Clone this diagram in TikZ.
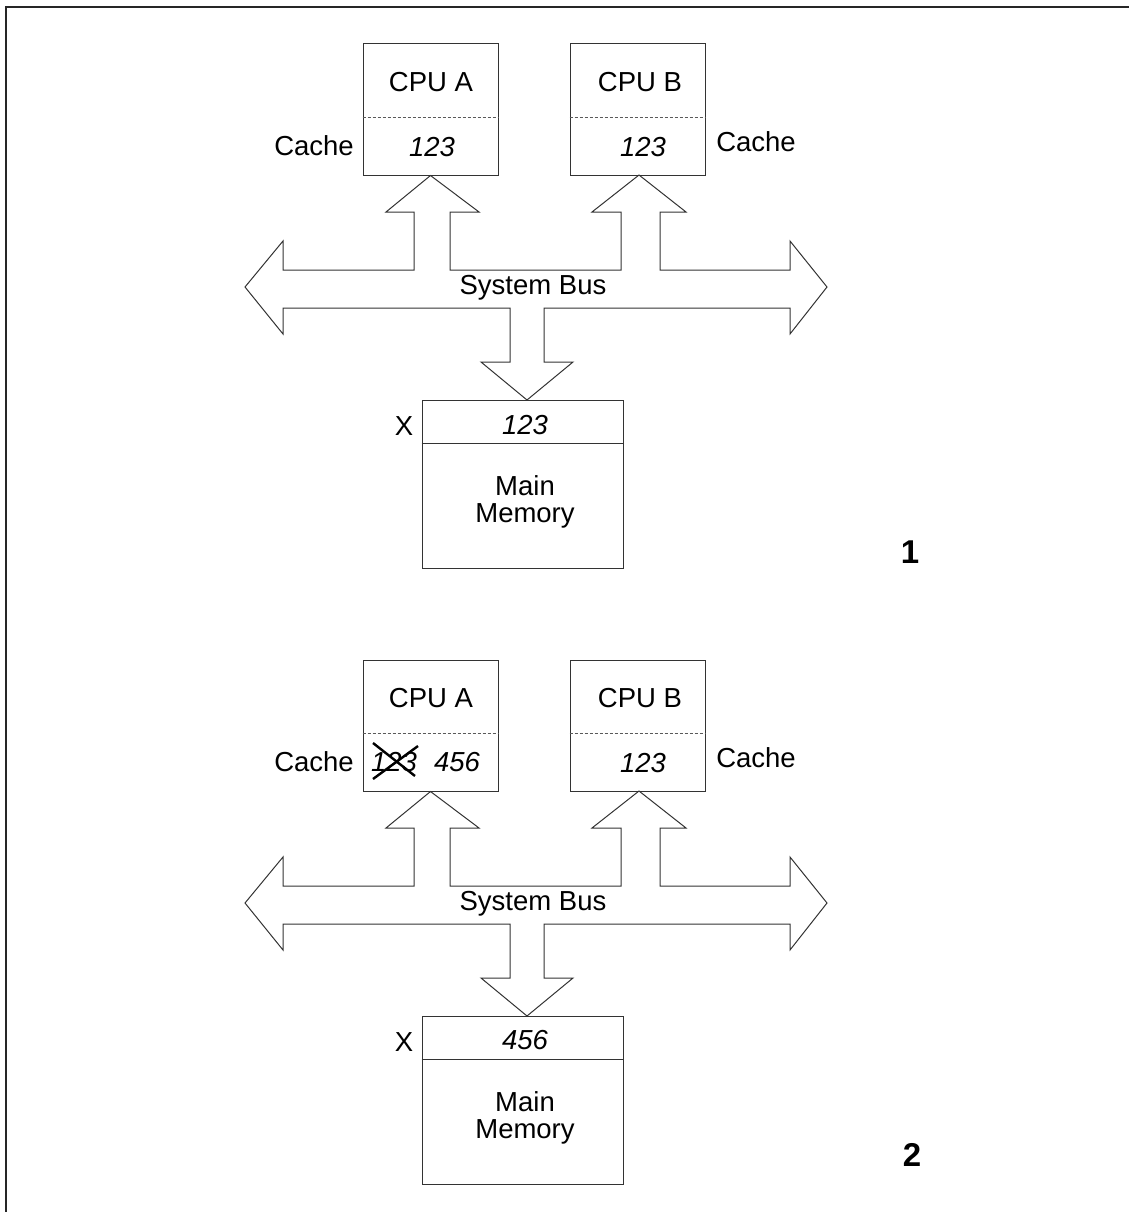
\documentclass[tikz,border=0pt]{standalone}
\usepackage{fontspec}
\setmainfont{Liberation Sans}
\begin{document}
\begin{tikzpicture}[x=1pt,y=-1pt,
  frame/.style={draw=black!85, line width=2pt},
  cpubox/.style={draw=black!80, line width=1pt, minimum width=135pt, minimum height=131pt, inner sep=0pt},
  membox/.style={draw=black!80, line width=1pt, minimum width=201pt, minimum height=168pt, inner sep=0pt},
  divider/.style={draw=black!65, line width=0.9pt, dash pattern=on 3pt off 2pt},
  memdiv/.style={draw=black!80, line width=1pt},
  bus/.style={draw=black!80, line width=1pt},
  lbl/.style={inner sep=0pt, font=\fontsize{27.5}{30}\selectfont},
  ilbl/.style={lbl, font=\fontsize{27.5}{30}\selectfont\itshape},
  num/.style={inner sep=0pt, font=\fontsize{33}{36}\selectfont\bfseries},
  cross/.style={draw=black, line width=2.4pt}]
\useasboundingbox (0,0) rectangle (1128,1212);
\draw[frame] (6,1213) -- (6,7) -- (1129,7);

% ---------------- Panel 1 ----------------
\node[cpubox] (a1) at (430.5,109.5) {};
\node[cpubox] (b1) at (637.5,109.5) {};
\draw[divider] ([yshift=-74pt]a1.north west) -- ([yshift=-74pt]a1.north east);
\draw[divider] ([yshift=-74pt]b1.north west) -- ([yshift=-74pt]b1.north east);
\node[lbl] (a1t) at (431,82) {CPU A};
\node[lbl] (b1t) at (640,82) {CPU B};
\node[ilbl] (a1c) at (432,147) {123};
\node[ilbl] (b1c) at (643,147) {123};
\node[lbl] (ca1) at (314,146) {Cache};
\node[lbl] (cb1) at (756,142) {Cache};
\node[membox] (m1) at (522.5,484) {};
\draw[memdiv] ([yshift=-44pt]m1.north west) -- ([yshift=-44pt]m1.north east);
\node[lbl] (x1) at (404,426) {X};
\node[ilbl] (m1v) at (525,425) {123};
\node[lbl, align=center, font=\fontsize{27.5}{27}\selectfont] (m1t) at (525,502) {Main\\Memory};
\draw[bus] (245,287) -- (283,241) -- (283,270) -- (414,270) -- (414,212) -- (386,212)
  -- (a1.south) -- (479,212) -- (450,212) -- (450,270) -- (621,270) -- (621,212) -- (592,212)
  -- (639,175) -- (686,212) -- (660,212) -- (660,270) -- (790,270) -- (790,241) -- (827,287)
  -- (790,334) -- (790,308) -- (544,308) -- (544,362) -- (573,362) -- (527,400) -- (481,362)
  -- (510,362) -- (510,308) -- (283,308) -- (283,334) -- cycle;
\node[lbl] (bus1) at (533,288) {System Bus};
\node[num] (n1) at (910,552) {1};

% ---------------- Panel 2 ----------------
\begin{scope}[yshift=-616pt]
\node[cpubox] (a2) at (430.5,109.5) {};
\node[cpubox] (b2) at (637.5,109.5) {};
\draw[divider] ([yshift=-74pt]a2.north west) -- ([yshift=-74pt]a2.north east);
\draw[divider] ([yshift=-74pt]b2.north west) -- ([yshift=-74pt]b2.north east);
\node[lbl] (a2t) at (431,82) {CPU A};
\node[lbl] (b2t) at (640,82) {CPU B};
\node[ilbl] (old) at (394,146) {123};
\draw[cross] ([shift={(-21,-19)}]old.center) -- ([shift={(21,14)}]old.center);
\draw[cross] ([shift={(-21,17)}]old.center) -- ([shift={(24,-16)}]old.center);
\node[ilbl] (new) at (457,146) {456};
\node[ilbl] (b2c) at (643,147) {123};
\node[lbl] (ca2) at (314,146) {Cache};
\node[lbl] (cb2) at (756,142) {Cache};
\node[membox] (m2) at (522.5,484) {};
\draw[memdiv] ([yshift=-44pt]m2.north west) -- ([yshift=-44pt]m2.north east);
\node[lbl] (x2) at (404,426) {X};
\node[ilbl] (m2v) at (525,424) {456};
\node[lbl, align=center, font=\fontsize{27.5}{27}\selectfont] (m2t) at (525,502) {Main\\Memory};
\draw[bus] (245,287) -- (283,241) -- (283,270) -- (414,270) -- (414,212) -- (386,212)
  -- (a2.south) -- (479,212) -- (450,212) -- (450,270) -- (621,270) -- (621,212) -- (592,212)
  -- (639,175) -- (686,212) -- (660,212) -- (660,270) -- (790,270) -- (790,241) -- (827,287)
  -- (790,334) -- (790,308) -- (544,308) -- (544,362) -- (573,362) -- (527,400) -- (481,362)
  -- (510,362) -- (510,308) -- (283,308) -- (283,334) -- cycle;
\node[lbl] (bus2) at (533,288) {System Bus};
\node[num] (n2) at (912,539) {2};
\end{scope}
\end{tikzpicture}
\end{document}
